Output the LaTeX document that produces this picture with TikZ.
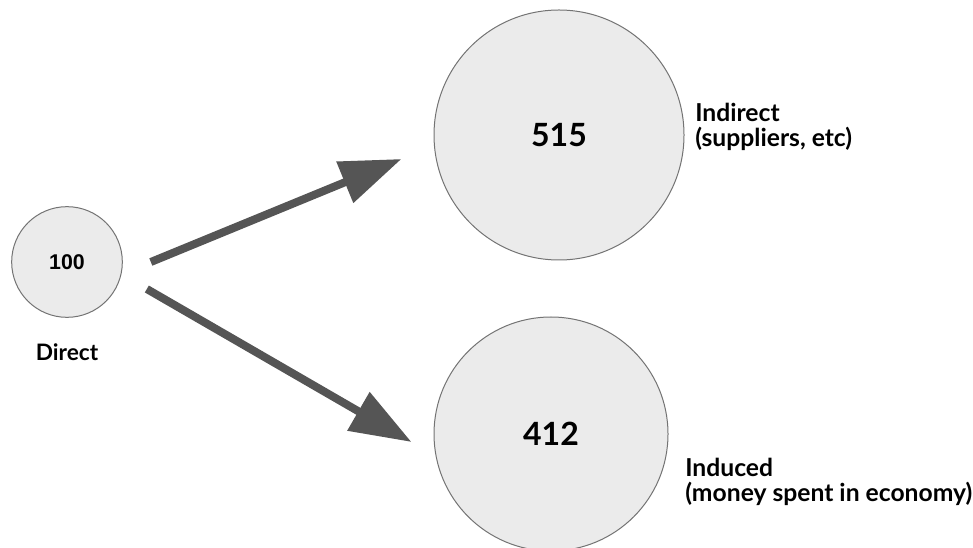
\documentclass[tikz,border=0pt]{standalone}
\usepackage{fontspec}
\setmainfont{Lato}
\newfontfamily\arialfont{Liberation Sans}
\usetikzlibrary{arrows.meta,positioning}
\definecolor{bubblefill}{HTML}{EBEBEB}
\definecolor{bubbleline}{HTML}{737373}
\definecolor{arrowgray}{HTML}{555555}
\tikzset{
    bubble/.style={
    circle,draw=bubbleline,fill=bubblefill,line width=0.75pt,inner sep=0pt
    },
    flow/.style={
    draw=arrowgray,line width=6pt,-{Triangle[length=46pt,width=32pt]}
    },
    caption/.style={
    anchor=north west,align=left,inner sep=0pt,font=\fontsize{18.5}{19}\selectfont\bfseries
    },
}

\begin{document}
\begin{tikzpicture}[x=0.75pt,y=-0.75pt]
   \useasboundingbox (0,0) rectangle (973,548);
   \node[bubble,minimum size=83pt] (direct) at (67,262) {\arialfont\fontsize{16}{16}\selectfont\bfseries 100};
   \node[bubble,minimum size=187.5pt] (indirect) at (559,135) {\fontsize{24}{24}\selectfont\bfseries 515};
   \node[bubble,minimum size=175.5pt] (induced) at (551,434) {\fontsize{24}{24}\selectfont\bfseries 412};

   \node[anchor=base,inner sep=0pt,font=\fontsize{17}{17}\selectfont\bfseries] (directlbl) at (67,360) {Direct};
   \node[caption] (indirectlbl) at (695,103) {Indirect\\(suppliers, etc)};
   \node[caption] (inducedlbl) at (685,458) {Induced\\(money spent in economy)};

   \draw[flow] ([shift={(28,0)}]direct.east) -- ([shift={(-32,24)}]indirect.west);
   \draw[flow] ([shift={(24,27)}]direct.east) -- ([shift={(-22,8)}]induced.west);
\end{tikzpicture}
\end{document}
